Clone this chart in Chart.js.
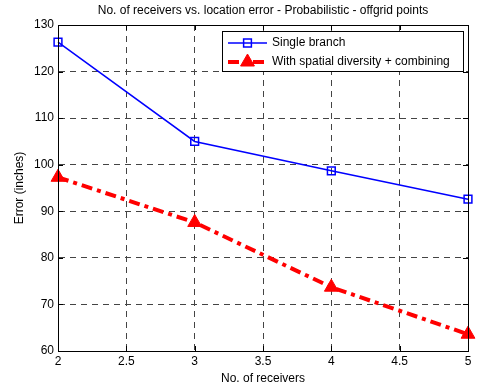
<!DOCTYPE html>
<html>
<head>
<meta charset="utf-8">
<script src="https://cdn.jsdelivr.net/npm/chart.js@4/dist/chart.umd.min.js"></script>
<style>
  html, body { margin: 0; padding: 0; background: #fff; }
  #wrap { width: 477px; height: 390px; }
</style>
</head>
<body>
<div id="wrap"><canvas id="myChart" width="477" height="390"></canvas></div>
<script>
// number of receivers
const receivers = [2, 3, 4, 5];
// error in inches
const singleBranch = [126.3, 105.0, 98.7, 92.6];
const diversityCombining = [97.3, 87.6, 73.7, 63.6];

const xTicks = [2, 2.5, 3, 3.5, 4, 4.5, 5];
const yTicks = [60, 70, 80, 90, 100, 110, 120, 130];

const FONT = 'Liberation Sans, Arial, Helvetica, sans-serif';

// MATLAB-like box, inner tick marks and legend inside the axes
const matlabAxes = {
  id: 'matlabAxes',
  afterDatasetsDraw(chart) {
    const ctx = chart.ctx;
    const a = chart.chartArea;
    const xs = chart.scales.x, ys = chart.scales.y;
    ctx.save();
    ctx.strokeStyle = '#000';
    ctx.lineWidth = 1;
    ctx.setLineDash([]);
    ctx.beginPath();
    xTicks.forEach(v => {
      const px = Math.round(xs.getPixelForValue(v)) + 0.5;
      ctx.moveTo(px, a.bottom); ctx.lineTo(px, a.bottom - 5);
      ctx.moveTo(px, a.top); ctx.lineTo(px, a.top + 5);
    });
    yTicks.forEach(v => {
      const py = Math.round(ys.getPixelForValue(v)) + 0.5;
      ctx.moveTo(a.left, py); ctx.lineTo(a.left + 5, py);
      ctx.moveTo(a.right, py); ctx.lineTo(a.right - 5, py);
    });
    ctx.stroke();
    ctx.strokeRect(Math.round(a.left) + 0.5, Math.round(a.top) + 0.5,
      Math.round(a.right - a.left), Math.round(a.bottom - a.top));

    // legend
    const lx = 222.5, ly = 31.5, lw = 241, lh = 40;
    ctx.fillStyle = '#fff';
    ctx.fillRect(lx, ly, lw, lh);
    ctx.strokeRect(lx, ly, lw, lh);
    chart.data.datasets.forEach((ds, i) => {
      const y = 43 + i * 19;
      ctx.save();
      ctx.strokeStyle = ds.borderColor;
      ctx.lineWidth = ds.borderWidth;
      ctx.setLineDash(ds.borderDash || []);
      ctx.beginPath();
      ctx.moveTo(228, y); ctx.lineTo(267, y);
      ctx.stroke();
      ctx.setLineDash([]);
      ctx.lineWidth = ds.pointBorderWidth;
      ctx.strokeStyle = ds.pointBorderColor;
      ctx.fillStyle = ds.pointBackgroundColor;
      const cx = 247.5, r = ds.pointRadius;
      ctx.beginPath();
      if (ds.pointStyle === 'rect') {
        const s = Math.SQRT1_2 * r;
        ctx.rect(cx - s, y - s, 2 * s, 2 * s);
      } else {
        let rad = 0;
        ctx.moveTo(cx + Math.sin(rad) * r, y - Math.cos(rad) * r);
        rad += Math.PI * 2 / 3;
        ctx.lineTo(cx + Math.sin(rad) * r, y - Math.cos(rad) * r);
        rad += Math.PI * 2 / 3;
        ctx.lineTo(cx + Math.sin(rad) * r, y - Math.cos(rad) * r);
        ctx.closePath();
      }
      ctx.fill();
      ctx.stroke();
      ctx.restore();
      ctx.fillStyle = '#000';
      ctx.font = '12px ' + FONT;
      ctx.textAlign = 'left';
      ctx.textBaseline = 'middle';
      ctx.fillText(ds.label, 272, y);
    });
    ctx.restore();
  }
};

const ctx = document.getElementById('myChart');
new Chart(ctx, {
  type: 'line',
  data: {
    datasets: [
      {
        label: 'Single branch',
        data: receivers.map((r, i) => ({ x: r, y: singleBranch[i] })),
        borderColor: '#0000ff',
        borderWidth: 1.5,
        pointStyle: 'rect',
        pointRadius: 5.5,
        pointBorderWidth: 1.5,
        pointBorderColor: '#0000ff',
        pointBackgroundColor: 'rgba(0,0,0,0)',
        tension: 0,
        clip: false,
      },
      {
        label: 'With spatial diversity + combining',
        data: receivers.map((r, i) => ({ x: r, y: diversityCombining[i] })),
        borderColor: '#ff0000',
        borderWidth: 4,
        borderDash: [11, 5, 4, 5],
        borderCapStyle: 'butt',
        pointStyle: 'triangle',
        pointRadius: 8,
        pointBorderWidth: 1,
        pointBorderColor: '#ff0000',
        pointBackgroundColor: '#ff0000',
        tension: 0,
        clip: false,
      },
    ],
  },
  options: {
    responsive: false,
    animation: false,
    devicePixelRatio: 1,
    layout: { padding: { left: 0, right: 4, top: 0, bottom: 0 } },
    plugins: {
      legend: { display: false },
      tooltip: { enabled: false },
      title: {
        display: true,
        text: 'No. of receivers vs. location error - Probabilistic - offgrid points',
        fullSize: false,
        color: '#000',
        font: { family: FONT, size: 12, weight: 'normal' },
        padding: { top: 3, bottom: 7.6 },
      },
    },
    scales: {
      x: {
        type: 'linear',
        min: 2,
        max: 5,
        ticks: {
          stepSize: 0.5,
          color: '#000',
          font: { family: FONT, size: 12 },
          padding: 3,
          maxRotation: 0,
          autoSkip: false,
          callback: (v) => String(v),
        },
        grid: { color: '#444', lineWidth: 1, drawTicks: false },
        border: { display: true, color: '#000', width: 1, dash: [6, 5] },
        title: {
          display: true,
          text: 'No. of receivers',
          color: '#000',
          font: { family: FONT, size: 12 },
          padding: { top: 0, bottom: 4 },
        },
        afterFit: (s) => { s.height = 39; s.paddingLeft = 0; s.paddingRight = 0; },
      },
      y: {
        min: 60,
        max: 130,
        ticks: {
          stepSize: 10,
          color: '#000',
          font: { family: FONT, size: 12 },
          padding: 4,
          callback: (v) => String(v),
        },
        grid: { color: '#444', lineWidth: 1, drawTicks: false },
        border: { display: true, color: '#000', width: 1, dash: [6, 5] },
        title: {
          display: true,
          text: 'Error (inches)',
          color: '#000',
          font: { family: FONT, size: 12 },
          padding: { top: 12.8, bottom: 0 },
        },
        afterFit: (s) => { s.width = 58; s.paddingTop = 0; s.paddingBottom = 0; },
      },
    },
  },
  plugins: [matlabAxes],
});
</script>
</body>
</html>
